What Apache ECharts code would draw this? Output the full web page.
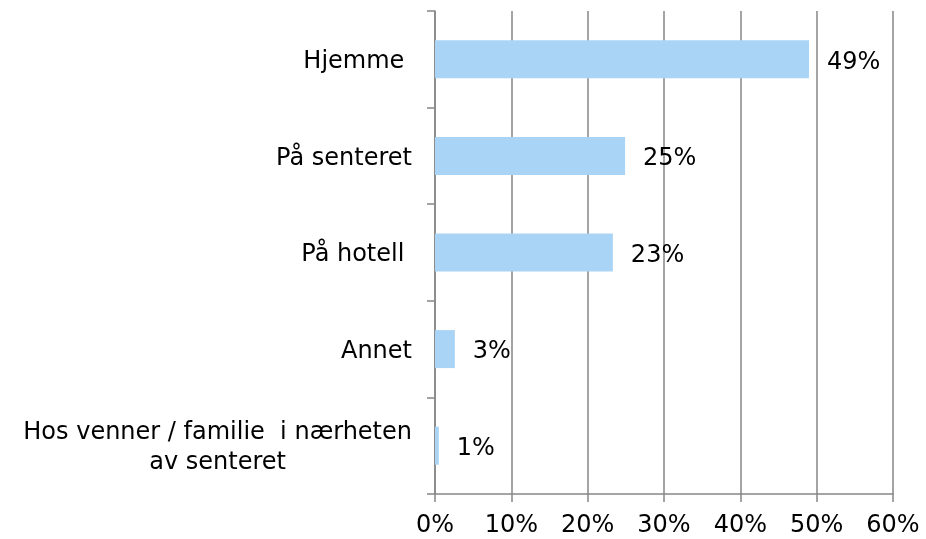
<!DOCTYPE html>
<html>
<head>
<meta charset="utf-8">
<script src="https://cdn.jsdelivr.net/npm/echarts@6/dist/echarts.min.js"></script>
<style>
  html, body { margin: 0; padding: 0; background: #fff; }
  #chart { width: 926px; height: 539px; }
</style>
</head>
<body>
<div id="chart"></div>
<script>
// categories top to bottom
const categories = [
  'Hjemme ',
  'På senteret',
  'På hotell ',
  'Annet',
  'Hos venner / familie  i nærheten\nav senteret'
]
// share in percent
const shares = [49.0, 24.9, 23.3, 2.6, 0.5]
const xTicks = [0, 10, 20, 30, 40, 50, 60]

const FONT = 'DejaVu Sans, Verdana, sans-serif'
const AXIS_GRAY = '#868686'

const chart = echarts.init(document.getElementById('chart'), null, { renderer: 'canvas' })

const option = {
  animation: false,
  grid: {
    left: 435,
    right: 33,
    top: 11,
    bottom: 45,
    containLabel: false
  },
  xAxis: {
    type: 'value',
    min: xTicks[0],
    max: xTicks[xTicks.length - 1],
    interval: 10,
    axisLine: { show: true, lineStyle: { color: AXIS_GRAY, width: 1.5 } },
    axisTick: { show: true, length: 8, lineStyle: { color: AXIS_GRAY, width: 1.5 } },
    splitLine: { show: true, lineStyle: { color: AXIS_GRAY, width: 1.5 } },
    axisLabel: {
      margin: 20,
      color: '#000',
      fontFamily: FONT,
      fontSize: 24,
      formatter: v => v + '%'
    }
  },
  yAxis: {
    type: 'category',
    inverse: true,
    data: categories,
    axisLine: { show: true, lineStyle: { color: AXIS_GRAY, width: 1.5 } },
    axisTick: { show: true, length: 8, lineStyle: { color: AXIS_GRAY, width: 1.5 } },
    axisLabel: {
      margin: 23,
      color: '#000',
      fontFamily: FONT,
      fontSize: 24,
      lineHeight: 30,
      padding: [5, 0, 0, 0],
      formatter: v => v.split('\n').map(s => '{c|' + s + '}').join('\n'),
      rich: {
        c: {
          align: 'center',
          color: '#000',
          fontFamily: FONT,
          fontSize: 24,
          lineHeight: 30
        }
      }
    }
  },
  series: [{
    type: 'bar',
    data: shares,
    barWidth: 38,
    itemStyle: { color: '#A9D4F5' },
    label: {
      show: true,
      position: 'right',
      distance: 18,
      offset: [0, 3],
      color: '#000',
      fontFamily: FONT,
      fontSize: 24,
      formatter: p => Math.round(p.value) + '%'
    }
  }]
}

chart.setOption(option)
</script>
</body>
</html>
